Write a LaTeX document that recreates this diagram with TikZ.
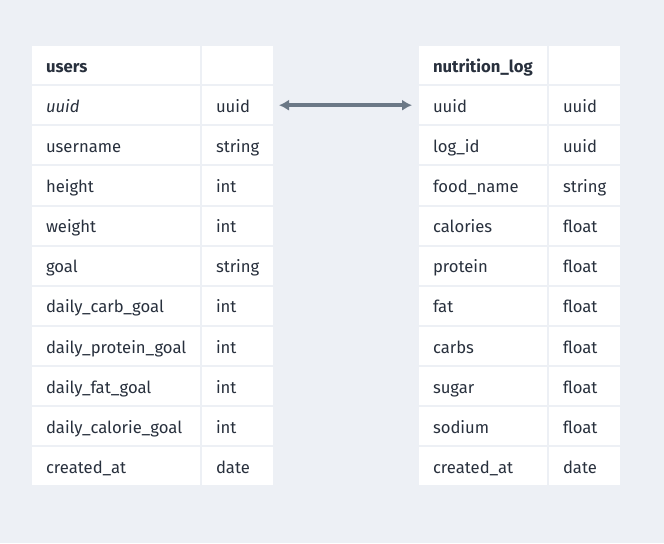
\documentclass[tikz,border=0pt]{standalone}
\usepackage{fontspec}
\setmainfont{Fira Sans}
\usetikzlibrary{positioning,arrows.meta}

\definecolor{canvas}{HTML}{EDF0F5}
\definecolor{ink}{HTML}{28303D}
\definecolor{link}{HTML}{6B7886}

\begin{document}
\begin{tikzpicture}[
    node distance=1.5pt,
    every node/.style={fill=white, outer sep=0pt, inner xsep=10.5pt, inner ysep=0pt,
        minimum height=28.6pt, text height=13.5pt, text depth=3pt, align=left,
        text=ink, font=\fontsize{12.5pt}{15pt}\selectfont},
    namecol/.style={text width=105pt},
    typecol/.style={text width=32.25pt},
    logcol/.style={text width=75pt}
]

\useasboundingbox[fill=canvas] (0,0) rectangle (498pt,-407.25pt);

% users table
\node[namecol, anchor=north west] (users) at (24pt,-34.5pt) {\bfseries users};
\node[typecol] (usersT) [right=of users] {};
\node[namecol] (uuid) [below=of users] {\itshape uuid};
\node[typecol] (uuidT) [right=of uuid] {uuid};
\node[namecol] (username) [below=of uuid] {username};
\node[typecol] (usernameT) [right=of username] {string};
\node[namecol] (height) [below=of username] {height};
\node[typecol] (heightT) [right=of height] {int};
\node[namecol] (weight) [below=of height] {weight};
\node[typecol] (weightT) [right=of weight] {int};
\node[namecol] (goal) [below=of weight] {goal};
\node[typecol] (goalT) [right=of goal] {string};
\node[namecol] (carbgoal) [below=of goal] {daily\_carb\_goal};
\node[typecol] (carbgoalT) [right=of carbgoal] {int};
\node[namecol] (proteingoal) [below=of carbgoal] {daily\_protein\_goal};
\node[typecol] (proteingoalT) [right=of proteingoal] {int};
\node[namecol] (fatgoal) [below=of proteingoal] {daily\_fat\_goal};
\node[typecol] (fatgoalT) [right=of fatgoal] {int};
\node[namecol] (caloriegoal) [below=of fatgoal] {daily\_calorie\_goal};
\node[typecol] (caloriegoalT) [right=of caloriegoal] {int};
\node[namecol] (ucreated) [below=of caloriegoal] {created\_at};
\node[typecol] (ucreatedT) [right=of ucreated] {date};

% nutrition_log table
\node[logcol, anchor=north west] (nutrition) at (314.25pt,-34.5pt) {\bfseries nutrition\_log};
\node[typecol] (nutritionT) [right=of nutrition] {};
\node[logcol] (loguuid) [below=of nutrition] {uuid};
\node[typecol] (loguuidT) [right=of loguuid] {uuid};
\node[logcol] (logid) [below=of loguuid] {log\_id};
\node[typecol] (logidT) [right=of logid] {uuid};
\node[logcol] (foodname) [below=of logid] {food\_name};
\node[typecol] (foodnameT) [right=of foodname] {string};
\node[logcol] (calories) [below=of foodname] {calories};
\node[typecol] (caloriesT) [right=of calories] {float};
\node[logcol] (protein) [below=of calories] {protein};
\node[typecol] (proteinT) [right=of protein] {float};
\node[logcol] (fat) [below=of protein] {fat};
\node[typecol] (fatT) [right=of fat] {float};
\node[logcol] (carbs) [below=of fat] {carbs};
\node[typecol] (carbsT) [right=of carbs] {float};
\node[logcol] (sugar) [below=of carbs] {sugar};
\node[typecol] (sugarT) [right=of sugar] {float};
\node[logcol] (sodium) [below=of sugar] {sodium};
\node[typecol] (sodiumT) [right=of sodium] {float};
\node[logcol] (lcreated) [below=of sodium] {created\_at};
\node[typecol] (lcreatedT) [right=of lcreated] {date};

% Link
\draw[link, line width=2.6pt, {Latex[length=7.5pt,width=8.5pt]}-{Latex[length=7.5pt,width=8.5pt]},
    shorten <=4.5pt, shorten >=5.25pt] (uuidT) -- (loguuid);

\end{tikzpicture}
\end{document}
